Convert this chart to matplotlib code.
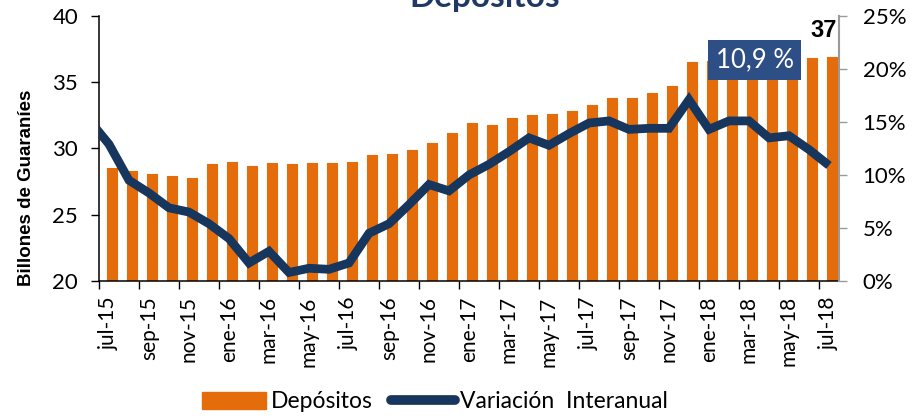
import matplotlib; matplotlib.use("Agg")
import matplotlib.pyplot as plt
import numpy as np
from matplotlib.patches import Patch
from matplotlib.lines import Line2D

plt.rcParams['font.family'] = ['Lato', 'DejaVu Sans']

CBAR = "#E46C0A"; CLINE = "#17365D"; CBOX = "#2E4F86"; CTITLE = "#1F3864"

# months jul-15 .. jul-18
meses = ["jul-15", "ago-15", "sep-15", "oct-15", "nov-15", "dic-15",
         "ene-16", "feb-16", "mar-16", "abr-16", "may-16", "jun-16",
         "jul-16", "ago-16", "sep-16", "oct-16", "nov-16", "dic-16",
         "ene-17", "feb-17", "mar-17", "abr-17", "may-17", "jun-17",
         "jul-17", "ago-17", "sep-17", "oct-17", "nov-17", "dic-17",
         "ene-18", "feb-18", "mar-18", "abr-18", "may-18", "jun-18", "jul-18"]
depositos = [28.5, 28.3, 28.1, 27.9, 27.8, 28.8, 29.0, 28.7, 28.9, 28.8,
             28.9, 28.9, 29.0, 29.5, 29.6, 29.9, 30.4, 31.2, 31.9, 31.8,
             32.3, 32.5, 32.6, 32.8, 33.3, 33.8, 33.8, 34.2, 34.7, 36.5,
             36.6, 36.5, 36.7, 36.6, 36.7, 36.8, 36.9]
# variación interanual (%), first value is jun-15 (cut by the axis)
variacion = [15.2, 12.9, 9.5, 8.3, 6.9, 6.5, 5.4, 4.0, 1.7, 2.8, 0.8,
             1.2, 1.1, 1.7, 4.5, 5.4, 7.2, 9.1, 8.5, 10.0, 11.0, 12.2,
             13.5, 12.8, 13.9, 14.9, 15.1, 14.3, 14.4, 14.4, 17.1, 14.3,
             15.1, 15.1, 13.5, 13.7, 12.4, 10.9]

x = np.arange(len(meses))
xl = np.arange(-1, len(meses))

fig = plt.figure(figsize=(9.15, 4.2), dpi=100)
ax = fig.add_axes([0.1082, 0.331, 0.8087, 0.631])
ax.bar(x + 0.15, depositos, width=0.53, color=CBAR, edgecolor=CBAR, lw=0.8,
       joinstyle="round", zorder=2)
ax.set_xlim(-0.5, 36.5); ax.set_ylim(20, 40)
ax.set_yticks(range(20, 41, 5))
ax.set_xticks(np.arange(-0.5, 36, 2))
ax.set_xticklabels([])
ax.set_xticks(x[::2], minor=True)
ax.set_xticklabels(meses[::2], minor=True, rotation=90, fontsize=15)
ax.tick_params(axis="x", which="major", length=6, width=1, direction="out")
ax.tick_params(axis="x", which="minor", length=0, pad=11)
ax.tick_params(axis="y", length=6, width=1, labelsize=16, pad=9)
ax.spines["top"].set_visible(False); ax.spines["right"].set_visible(False)
for s in ("left", "bottom"): ax.spines[s].set_linewidth(1.1)

ax2 = ax.twinx()
ax2.plot(xl, variacion, color=CLINE, lw=6.3, solid_joinstyle="miter",
         solid_capstyle="butt", zorder=3)
ax2.set_ylim(0, 25); ax2.set_yticks(range(0, 26, 5))
ax2.set_yticklabels([f"{v}%" for v in range(0, 26, 5)])
ax2.tick_params(axis="y", length=6, width=1, labelsize=16, pad=11, color="#9a9a9a")
for s in ("top", "left", "bottom"): ax2.spines[s].set_visible(False)
ax2.spines["right"].set_color("#9a9a9a"); ax2.spines["right"].set_linewidth(1.5)

ax.annotate(f"{round(depositos[-1])}", xy=(x[-1] + 0.15, depositos[-1]), xytext=(-6, 11),
            textcoords="offset points", ha="center", va="bottom",
            fontsize=17, fontweight="bold", family=["Liberation Sans"])
ax2.text(0.886, 0.834, f"{variacion[-1]:.1f} %".replace(".", ","), transform=ax2.transAxes,
         ha="center", va="center", color="white", fontsize=18.5,
         bbox=dict(boxstyle="square,pad=0.28", fc=CBOX, ec="none"))

fig.text(485 / 915, 0.984, "Depósitos", ha="center", va="baseline",
         fontsize=24, fontweight="bold", color=CTITLE)
fig.text(27 / 915, 1 - 188 / 420, "Billones de Guaraníes", rotation=90, ha="center",
         va="center", fontsize=13.5, fontweight="bold", family=["Liberation Sans"])

handles = [Patch(color=CBAR), Line2D([], [], color=CLINE, lw=7, solid_capstyle="round")]
fig.legend(handles, ["Depósitos", "Variación  Interanual"], loc="center",
           bbox_to_anchor=(435 / 915, 1 - 402 / 420), ncol=2, frameon=False,
           fontsize=16.5, handlelength=2.8, handleheight=0.8, handletextpad=0.2,
           columnspacing=0.8)

fig.savefig("out.png", dpi=100)
